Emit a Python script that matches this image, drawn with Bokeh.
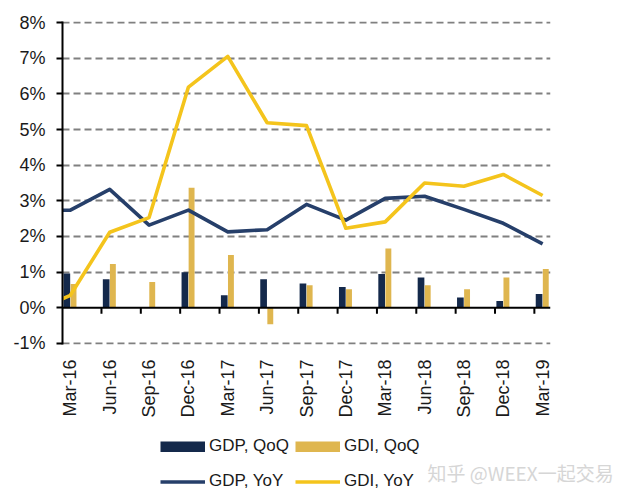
import math
from bokeh.plotting import figure
from bokeh.layouts import column
from bokeh.models import (LinearAxis, FixedTicker, Span, Legend, LegendItem,
                          Label, Range1d, ColumnDataSource)
from bokeh.embed import file_html
from bokeh.resources import INLINE

# ---- data ----
quarters = ["Dec-15", "Mar-16", "Jun-16", "Sep-16", "Dec-16", "Mar-17", "Jun-17",
            "Sep-17", "Dec-17", "Mar-18", "Jun-18", "Sep-18", "Dec-18", "Mar-19"]
gdp_yoy = [2.72, 2.74, 3.32, 2.32, 2.74, 2.13, 2.19, 2.90, 2.46, 3.07, 3.13, 2.76, 2.37, 1.79]
gdi_yoy = [-0.15, 0.35, 2.12, 2.53, 6.19, 7.05, 5.19, 5.11, 2.23, 2.41, 3.50, 3.41, 3.74, 3.15]
gdp_qoq = [float("nan"), 0.96, 0.80, 0.0, 1.00, 0.35, 0.80, 0.68, 0.58, 0.95, 0.85, 0.29, 0.19, 0.39]
gdi_qoq = [float("nan"), 0.67, 1.23, 0.72, 3.37, 1.48, -0.46, 0.63, 0.52, 1.66, 0.63, 0.52, 0.85, 1.09]
y_ticks = [-1, 0, 1, 2, 3, 4, 5, 6, 7, 8]
series_names = ["GDP, QoQ", "GDI, QoQ", "GDP, YoY", "GDI, YoY"]
watermark = "知乎 @WEEX一起交易"
shown = quarters[1:]

# ---- styles ----
NAVY_BAR = "#14294b"
GOLD_BAR = "#dfb64f"
NAVY_LINE = "#263f6a"
GOLD_LINE = "#f4c41c"
TXT = "#1a1a1a"
FONT = "Liberation Sans"
LW = 3.6
NAN = float("nan")

idx = [i - 1 for i in range(len(quarters))]  # Dec-15 sits at -1 (clipped at the axis)
src = ColumnDataSource(dict(x=idx, q=quarters, gdp_yoy=gdp_yoy, gdi_yoy=gdi_yoy,
                            gdp_x=[i - 0.09 for i in idx], gdi_x=[i + 0.08 for i in idx],
                            gdp_qoq=gdp_qoq, gdi_qoq=gdi_qoq))

p = figure(width=624, height=420, output_backend="svg", toolbar_location=None,
           x_range=Range1d(-0.2, 12.2), y_range=Range1d(-1.03, 8.03),
           min_border_left=62, min_border_right=74, min_border_top=21,
           min_border_bottom=74, x_axis_location=None, y_axis_location=None)
p.frame_align = False
p.outline_line_color = None
p.background_fill_color = "white"
p.border_fill_color = "white"

# grid
p.xgrid.visible = False
p.ygrid.ticker = FixedTicker(ticks=[t for t in y_ticks if t != 0])
p.ygrid.grid_line_color = "#808080"
p.ygrid.grid_line_width = 1.8
p.ygrid.grid_line_dash = "7 4"

# y axis
yax = LinearAxis(ticker=FixedTicker(ticks=y_ticks),
                 major_label_overrides={t: f"{t}%" for t in y_ticks})
yax.axis_line_color = "black"
yax.axis_line_width = 2
yax.major_tick_line_color = "black"
yax.major_tick_line_width = 2
yax.major_tick_out = 6
yax.major_tick_in = 0
yax.minor_tick_line_color = None
yax.major_label_standoff = 11
yax.major_label_text_font = FONT
yax.major_label_text_font_size = "18px"
yax.major_label_text_color = TXT
p.add_layout(yax, "left")

# x axis (labels only)
xticks = list(range(len(shown)))
xax = LinearAxis(ticker=FixedTicker(ticks=xticks),
                 major_label_overrides={i: shown[i] for i in xticks})
xax.axis_line_color = None
xax.major_tick_line_color = None
xax.minor_tick_line_color = None
xax.major_label_orientation = math.pi / 2
xax.major_label_standoff = 9
xax.major_label_text_font = FONT
xax.major_label_text_font_size = "18px"
xax.major_label_text_color = TXT
p.add_layout(xax, "below")

# bars
p.vbar(x="gdp_x", width=0.17, top="gdp_qoq", bottom=0, source=src,
       fill_color=NAVY_BAR, line_color=None)
p.vbar(x="gdi_x", width=0.15, top="gdi_qoq", bottom=0, source=src,
       fill_color=GOLD_BAR, line_color=None)

# zero line and its tick marks
p.add_layout(Span(location=0, dimension="width", line_color="black", line_width=2))
tick_x = [i - 0.21 for i in xticks[1:]]
p.segment(x0=tick_x, y0=[0] * len(tick_x), x1=tick_x, y1=[-0.17] * len(tick_x),
          line_color="black", line_width=2)

# lines
p.line(x="x", y="gdp_yoy", source=src, line_color=NAVY_LINE, line_width=LW,
       line_join="round")
p.line(x="x", y="gdi_yoy", source=src, line_color=GOLD_LINE, line_width=LW,
       line_join="round")

# ---- legend strip ----
q = figure(width=624, height=80, output_backend="svg", toolbar_location=None,
           x_range=Range1d(0, 624), y_range=Range1d(0, 80), min_border=0,
           x_axis_location=None, y_axis_location=None)
q.frame_align = False
q.outline_line_color = None
q.grid.visible = False
q.border_fill_color = "white"

# legend swatch proxies (a single NaN point: nothing drawn, swatch shown)
sw = [q.line(x=[NAN], y=[NAN], line_color=NAVY_BAR, line_width=11),
      q.line(x=[NAN], y=[NAN], line_color=GOLD_BAR, line_width=11),
      q.line(x=[NAN], y=[NAN], line_color=NAVY_LINE, line_width=LW),
      q.line(x=[NAN], y=[NAN], line_color=GOLD_LINE, line_width=LW)]

legend = Legend(items=[LegendItem(label=n, renderers=[r]) for n, r in zip(series_names, sw)],
                orientation="horizontal", nrows=2, location=(160, 4.5))
legend.glyph_width = 45
legend.glyph_height = 11
legend.label_height = 29
legend.label_standoff = 4
legend.spacing = 6
legend.padding = 0
legend.margin = 0
legend.border_line_color = None
legend.background_fill_alpha = 0
legend.label_text_font = FONT
legend.label_text_font_size = "17px"
legend.label_text_color = TXT
q.add_layout(legend, "center")

q.add_layout(Label(x=427, y=28, text=watermark, text_font="Noto Sans CJK SC",
                   text_font_size="19px", text_color="#d6d6d6",
                   text_baseline="middle"))

open("out.html", "w").write(file_html(column(p, q, spacing=0), INLINE))
